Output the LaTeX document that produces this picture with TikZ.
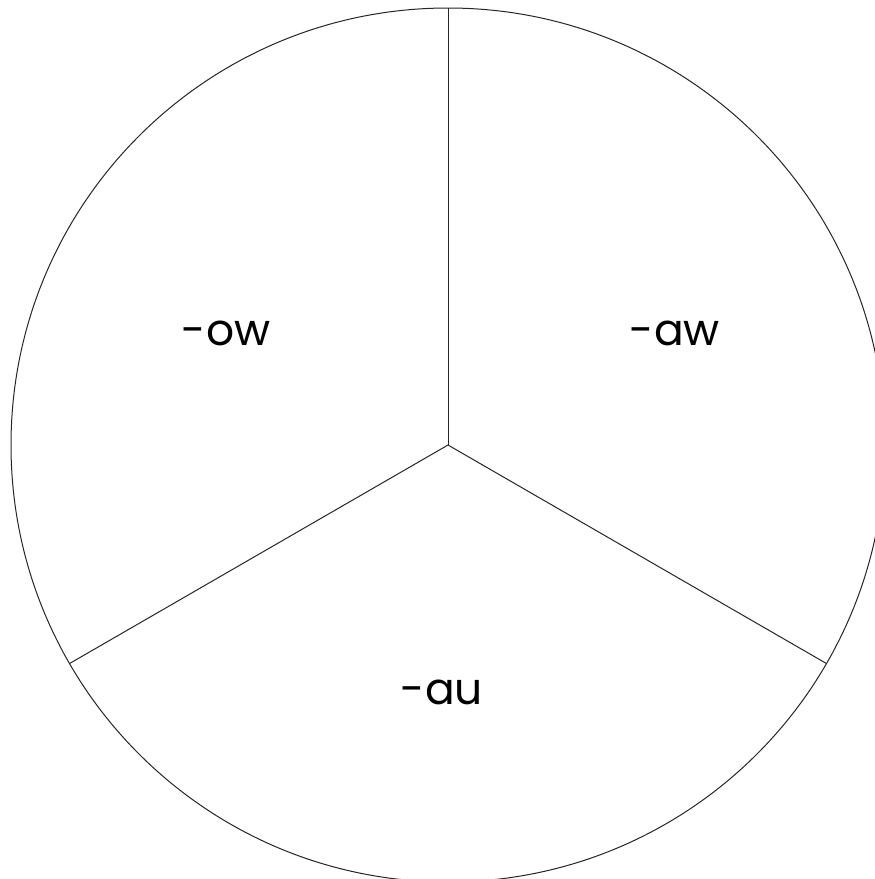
\documentclass[tikz,border=0pt]{standalone}
\usepackage{fontspec}
\setmainfont{Poppins}
\usetikzlibrary{calc}
\begin{document}
\begin{tikzpicture}[x=1pt,y=-1pt,
  edge/.style={draw=black!85,line width=1pt},
  lbl/.style={inner sep=0pt,font=\fontsize{44}{46}\selectfont}]
\useasboundingbox (0,0) rectangle (875,879);
\clip (0,0) rectangle (875,879);
\fill[white] (0,0) rectangle (875,879);
\coordinate (c) at (448,445);
\coordinate (t) at (448,8);
\coordinate (l) at ($(c)+(-378.4,218.5)$);
\coordinate (r) at ($(c)+(378.4,218.5)$);
\draw[edge] (c) circle[radius=437];
\draw[edge] (c) -- (t);
\draw[edge] (c) -- (l);
\draw[edge] (c) -- (r);
\node[lbl] (ow) at (226,333) {-ow};
\node[lbl] (aw) at (675,333) {-aw};
\node[lbl] (au) at (442,692) {-au};
\end{tikzpicture}
\end{document}
